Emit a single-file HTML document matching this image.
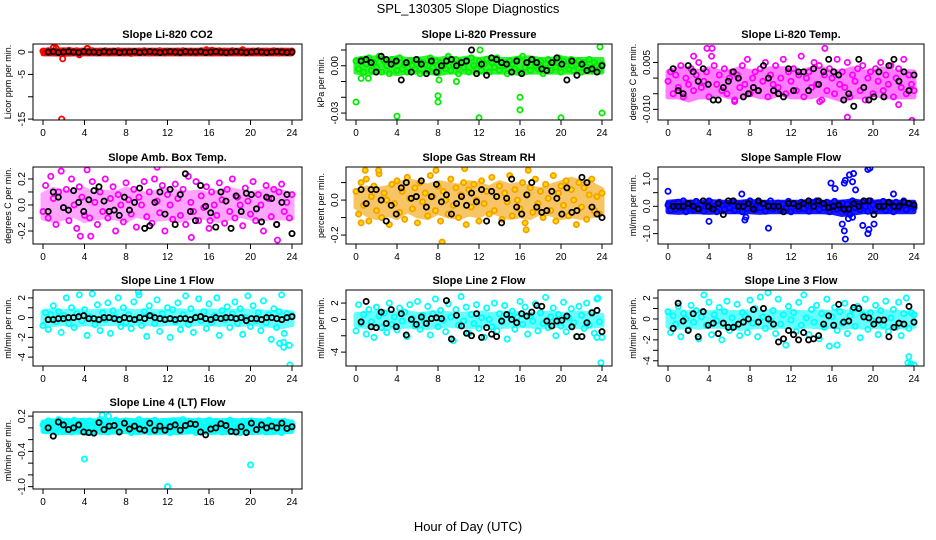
<!DOCTYPE html>
<html><head><meta charset="utf-8"><style>
html,body{margin:0;padding:0;background:#fff;}
svg{display:block;font-family:"Liberation Sans",sans-serif;}
</style></head><body>
<svg id="chart" width="936" height="540" viewBox="0 0 936 540">
<text x="468" y="13" text-anchor="middle" font-size="13">SPL_130305  Slope Diagnostics</text>
<text x="468" y="531" text-anchor="middle" font-size="13">Hour of Day (UTC)</text>
</svg>
<script>
const xTicks = [0,4,8,12,16,20,24];

const co2Color = [0.2,-0.1,0.3,0.1,-0.2,0.9,0.1,-0.3,0.2,-0.1,0.4,-0.2,0.1,0.3,-0.6,0.2,0.0,0.8,-0.1,0.3,0.1,-0.2,0.2,0.0,0.3,-0.2,0.1,0.2,-0.1,0.3,0.0,-0.2,0.1,0.2,-0.3,0.1,0.0,0.2,-0.1,0.3,0.1,-0.2,0.2,0.0,-0.1,0.3,0.1,-0.2,0.2,0.1,-0.1,0.0,0.2,-0.2,0.3,0.1,-0.1,0.2,0.0,-0.2,0.1,0.3,-0.1,0.5,0.2,-0.2,0.1,0.0,0.3,-0.1,0.2,-0.2,0.1,0.3,0.0,-0.1,0.2,0.5,-0.2,0.1,0.0,0.2,-0.1,0.3,0.1,-0.2,0.2,0.0,-0.1,0.3,0.1,-0.2,0.2,0.0,0.1,-0.1,0.2];
const co2Black = [0.0,0.1,-0.1,0.0,0.1,0.0,-0.1,0.1,0.0,0.0,-0.1,0.1,0.0,0.1,-0.1,0.0,0.0,0.1,-0.1,0.0,0.1,0.0,-0.1,0.0,0.1,0.0,-0.1,0.1,0.0,0.0,0.1,-0.1,0.0,0.1,0.0,-0.1,0.0,0.1,0.0,-0.1,0.0,0.1,0.0,-0.1,0.0,0.1,0.0,-0.1,0.0];
const co2Out = [[1,1],[1.9,-1.5],[1.8,-15],[4.3,0.8],[3.5,-0.6],[16.3,0.4]];
const co2BandLo = [-0.4,-0.4,-0.5,-0.4,-0.4,-0.4,-0.4,-0.4,-0.4,-0.4,-0.4,-0.4,-0.4,-0.4,-0.4,-0.4,-0.4,-0.4,-0.4,-0.4,-0.4,-0.4,-0.4,-0.4,-0.4];
const co2BandHi = [0.4,0.4,0.5,0.4,0.4,0.4,0.4,0.4,0.4,0.4,0.4,0.4,0.4,0.4,0.4,0.4,0.5,0.4,0.4,0.4,0.4,0.4,0.4,0.4,0.4];

const presColor = [0.003,-0.002,0.004,-0.004,0.001,0.005,-0.003,0.002,-0.001,0.006,-0.004,0.003,0.000,-0.005,0.004,0.002,-0.003,0.005,-0.002,0.001,-0.004,0.003,0.000,-0.002,0.004,-0.005,0.002,0.001,-0.003,0.005,-0.001,0.003,-0.004,0.002,0.000,-0.002,0.006,-0.003,0.001,0.004,-0.005,0.002,-0.001,0.003,-0.004,0.005,0.000,-0.002,0.003,-0.003,0.001,0.004,-0.004,0.002,-0.001,0.005,-0.003,0.002,0.000,-0.005,0.003,0.001,-0.002,0.004,-0.004,0.006,-0.001,0.002,-0.003,0.004,0.000,-0.002,0.003,-0.005,0.001,0.004,-0.003,0.002,-0.001,0.005,-0.004,0.003,0.000,-0.002,0.004,-0.003,0.001,0.003,-0.004,0.002,-0.001,0.004,-0.003,0.002,0.000,-0.002,0.001];
const presBlack = [0.003,0.004,0.002,-0.004,0.006,0.004,0.001,0.003,-0.009,0.002,-0.004,0.004,0.001,-0.005,0.003,-0.004,0.000,0.003,0.004,0.000,0.002,0.003,0.010,-0.005,0.001,-0.006,0.005,0.004,0.002,0.001,-0.004,0.003,-0.005,0.002,0.004,0.002,-0.002,-0.003,0.002,0.005,0.001,-0.009,0.003,-0.006,0.001,-0.003,-0.002,-0.004,0.000];
const presOut = [[0,-0.023],[4,-0.032],[8,-0.019],[8,-0.023],[12,-0.033],[16,-0.020],[16,-0.028],[20,-0.033],[24,-0.030],[23.8,0.012],[0.5,-0.008],[1.2,-0.008],[8.1,-0.009],[9.8,-0.010],[12.1,0.010]];
const presBandLo = [-0.004,-0.005,-0.004,-0.004,-0.005,-0.004,-0.004,-0.004,-0.005,-0.004,-0.004,-0.004,-0.004,-0.004,-0.004,-0.004,-0.005,-0.004,-0.004,-0.004,-0.004,-0.004,-0.004,-0.004,-0.004];
const presBandHi = [0.004,0.005,0.005,0.004,0.005,0.004,0.004,0.005,0.004,0.005,0.004,0.005,0.004,0.005,0.004,0.004,0.005,0.005,0.004,0.004,0.005,0.004,0.004,0.004,0.004];

const tempColor = [-0.001,0.002,-0.005,0.001,-0.003,0.004,-0.006,0.000,-0.002,0.003,-0.004,0.001,0.005,-0.003,-0.001,0.002,-0.006,0.007,0.004,-0.002,0.001,-0.004,0.003,-0.005,0.000,0.002,-0.007,0.001,-0.003,0.004,-0.002,0.006,-0.005,0.000,0.002,-0.004,0.003,-0.001,0.005,-0.006,0.001,-0.002,0.004,-0.003,0.000,0.006,-0.005,0.002,-0.001,0.003,-0.004,0.001,0.007,-0.006,0.000,0.002,-0.003,0.005,-0.002,0.004,-0.007,0.001,-0.004,0.003,0.000,-0.005,0.006,-0.002,0.002,-0.003,0.005,-0.006,0.001,-0.001,0.003,-0.004,0.004,-0.007,0.000,0.002,-0.005,0.003,-0.001,0.005,-0.004,0.001,-0.002,0.004,-0.006,0.000,0.003,-0.003,0.006,-0.005,0.001,-0.002,-0.004];
const tempBlack = [0.003,-0.004,-0.005,0.004,0.002,-0.001,0.003,-0.002,-0.007,-0.007,-0.003,-0.001,0.002,0.000,-0.006,-0.005,-0.003,-0.004,0.004,0.000,-0.004,-0.005,-0.006,0.003,-0.004,0.002,0.002,-0.004,0.003,-0.002,0.002,0.006,0.002,0.001,-0.007,-0.005,-0.009,0.006,-0.003,-0.007,-0.006,0.002,-0.006,0.004,0.006,-0.001,0.002,-0.004,0.001];
const tempOut = [[3.8,0.0095],[4.3,0.0095],[15.3,0.0095],[17.5,-0.0125],[23.8,-0.0135],[6.5,-0.0075],[22.5,-0.0085],[14.8,-0.0075],[2.5,0.007]];
const tempBandLo = [-0.006,-0.006,-0.007,-0.006,-0.006,-0.005,-0.006,-0.006,-0.005,-0.006,-0.006,-0.005,-0.006,-0.006,-0.006,-0.005,-0.006,-0.007,-0.006,-0.006,-0.005,-0.006,-0.006,-0.006,-0.006];
const tempBandHi = [0.002,0.003,0.003,0.002,0.003,0.002,0.002,0.003,0.002,0.002,0.003,0.003,0.003,0.002,0.003,0.003,0.002,0.002,0.003,0.002,0.002,0.003,0.002,0.002,0.002];

const ambColor = [-0.05,0.15,-0.1,0.22,0.05,-0.15,0.1,0.26,-0.02,0.12,-0.12,0.2,0.0,-0.18,0.14,0.06,-0.08,0.27,-0.1,0.18,0.02,-0.15,0.1,-0.05,0.2,-0.1,0.05,0.14,-0.2,0.08,0.0,-0.13,0.17,0.04,-0.07,0.12,-0.17,0.06,0.0,0.18,-0.09,0.1,-0.14,0.2,0.03,-0.06,0.15,-0.2,0.08,0.0,-0.11,0.16,0.05,-0.08,0.12,-0.15,0.22,0.02,-0.05,0.18,-0.12,0.07,-0.02,0.14,-0.18,0.1,0.0,-0.08,0.17,0.04,-0.14,0.12,-0.05,0.2,-0.1,0.06,0.0,-0.16,0.13,0.03,-0.07,0.18,-0.12,0.08,0.0,-0.2,0.15,0.05,-0.09,0.12,-0.15,0.1,0.16,-0.05,0.02,-0.1,0.08];
const ambBlack = [-0.05,0.1,0.06,-0.02,-0.04,0.11,0.02,-0.05,0.04,0.11,0.14,0.03,-0.05,-0.04,-0.08,0.06,-0.04,0.02,0.13,-0.18,-0.16,0.02,0.1,-0.07,0.12,-0.15,0.08,0.24,-0.05,-0.12,0.15,-0.01,-0.06,-0.17,0.1,0.03,-0.18,0.07,-0.05,0.09,0.08,-0.03,-0.13,0.06,0.05,-0.15,0.02,0.08,-0.22];
const ambOut = [[11,0.29],[16.1,-0.12],[22.6,-0.27],[3.6,-0.24],[4.6,-0.24],[14.3,-0.25]];
const ambBandLo = [-0.1,-0.12,-0.1,-0.08,-0.12,-0.1,-0.09,-0.1,-0.12,-0.08,-0.1,-0.11,-0.1,-0.12,-0.1,-0.09,-0.1,-0.12,-0.1,-0.08,-0.1,-0.11,-0.1,-0.1,-0.1];
const ambBandHi = [0.08,0.12,0.1,0.1,0.12,0.08,0.1,0.09,0.12,0.1,0.08,0.1,0.12,0.1,0.09,0.1,0.08,0.1,0.12,0.1,0.09,0.1,0.12,0.1,0.08];

const rhColor = [0.05,-0.08,0.1,-0.03,0.12,-0.12,0.02,0.08,-0.06,0.15,-0.1,0.04,0.0,-0.14,0.09,-0.02,0.11,-0.07,0.05,-0.11,0.13,0.01,-0.05,0.07,-0.13,0.1,-0.01,0.04,-0.09,0.14,0.02,-0.06,0.08,-0.12,0.05,0.0,-0.08,0.12,-0.03,0.07,-0.1,0.03,0.1,-0.14,0.06,-0.04,0.09,0.0,-0.12,0.11,-0.02,0.05,-0.08,0.13,-0.06,0.02,0.08,-0.11,0.04,-0.01,0.14,-0.09,0.06,0.0,-0.05,0.1,-0.13,0.03,0.07,-0.07,0.12,-0.02,0.05,-0.1,0.09,0.01,-0.06,0.14,-0.12,0.04,0.08,-0.03,0.11,-0.09,0.06,0.0,-0.14,0.1,-0.04,0.07,-0.11,0.03,0.12,-0.06,0.02,-0.08,0.04];
const rhBlack = [0.06,-0.02,0.06,0.06,0.0,-0.12,-0.03,-0.08,0.07,0.1,0.01,0.02,0.11,-0.04,0.02,0.09,-0.01,0.03,-0.08,-0.02,0.02,-0.03,0.04,-0.01,0.06,-0.12,0.05,0.02,-0.13,0.01,0.12,-0.04,-0.08,0.03,0.1,-0.04,-0.07,-0.06,0.05,0.01,-0.08,0.07,-0.07,-0.06,0.13,0.1,-0.04,-0.08,-0.1];
const rhOut = [[0.5,-0.13],[0.9,0.17],[2.2,0.17],[8.4,-0.24],[16.8,0.17],[16.6,-0.17],[7.8,0.17],[10.6,0.18]];
const rhBandLo = [-0.04,-0.08,-0.1,-0.08,-0.1,-0.06,-0.09,-0.1,-0.07,-0.09,-0.1,-0.08,-0.09,-0.06,-0.08,-0.1,-0.09,-0.1,-0.07,-0.08,-0.1,-0.09,-0.1,-0.09,-0.08];
const rhBandHi = [0.04,0.07,0.06,0.07,0.09,0.11,0.1,0.08,0.1,0.09,0.08,0.1,0.09,0.07,0.1,0.08,0.09,0.07,0.06,0.08,0.1,0.12,0.1,0.09,0.06];

const sfColor = [0.05,-0.15,0.1,-0.1,0.15,-0.05,0.2,-0.2,0.0,0.12,-0.12,0.18,-0.08,0.05,-0.18,0.1,0.2,-0.1,0.0,-0.2,0.15,0.05,-0.12,0.1,-0.05,0.18,-0.15,0.0,0.08,-0.2,0.12,-0.08,0.2,0.0,-0.12,0.15,-0.05,0.1,-0.18,0.05,0.2,-0.1,0.0,0.12,-0.15,0.08,-0.05,0.18,-0.2,0.1,0.0,-0.1,0.15,-0.08,0.05,-0.18,0.12,0.0,0.2,-0.12,0.1,-0.05,0.15,-0.2,0.05,0.18,-0.1,0.0,0.12,-0.15,0.08,-0.3,0.2,-0.05,0.1,-0.12,0.15,0.0,-0.18,0.2,0.05,-0.1,0.12,-0.05,0.18,-0.15,0.0,0.1,-0.2,0.15,-0.08,0.05,0.2,-0.12,0.1,0.0,-0.05];
const sfBlack = [0.0,0.0,0.0,0.1,0.0,-0.1,0.2,0.0,-0.1,0.1,-0.3,0.2,0.2,0.0,0.0,0.1,-0.1,0.2,0.1,0.0,0.0,0.0,-0.2,0.1,0.1,0.0,0.1,0.2,0.0,0.2,0.1,-0.05,0.0,0.05,-0.1,-0.1,0.1,0.0,0.2,0.2,-0.3,0.0,0.0,0.15,0.0,0.0,0.15,0.1,0.05];
const sfOut = [[0,0.55],[4,-0.55],[7.5,-0.5],[7.6,-0.4],[7.2,0.45],[9.8,-0.8],[15.9,0.85],[16.3,0.65],[17.2,0.85],[17.3,0.95],[17.7,1.15],[18,0.9],[18.1,1.2],[18.3,0.6],[17,-0.65],[17.2,-0.9],[17.3,-1.2],[17.6,-0.45],[18,-0.4],[19,-0.7],[19.5,-1.0],[19.6,-0.85],[19.5,1.35],[19.7,1.4],[20.1,-0.65],[22,0.45]];
const sfBandLo = [-0.2,-0.22,-0.2,-0.2,-0.22,-0.2,-0.2,-0.2,-0.2,-0.22,-0.2,-0.2,-0.2,-0.2,-0.2,-0.2,-0.22,-0.3,-0.25,-0.2,-0.2,-0.2,-0.2,-0.2,-0.2];
const sfBandHi = [0.15,0.18,0.15,0.15,0.18,0.15,0.15,0.15,0.18,0.15,0.15,0.15,0.15,0.15,0.18,0.15,0.15,0.15,0.2,0.15,0.15,0.18,0.15,0.15,0.15];

const l1Color = [-0.8,0.5,-1.2,0.3,1.2,-0.4,0.6,-1.5,0.2,2.0,-0.6,1.0,-1.0,0.4,2.3,-0.3,0.8,-1.8,0.1,2.4,-0.7,1.3,-1.3,0.5,-0.2,1.5,-1.6,0.7,0.0,2.0,-0.9,1.0,-0.5,0.3,-1.1,1.6,-0.2,2.3,-0.8,0.6,-1.9,1.2,0.2,-0.6,1.8,-1.4,0.4,-0.1,1.0,-2.0,0.8,-0.4,1.5,-1.2,0.3,2.2,-0.7,0.9,-1.5,0.1,1.9,-0.3,0.6,-1.1,1.4,-0.5,0.2,2.0,-1.8,0.7,-0.2,1.1,-1.0,0.4,1.6,-0.6,0.9,-1.7,0.0,2.2,-0.9,1.2,-0.3,0.5,-1.3,1.7,-0.5,0.3,-2.2,0.9,-1.0,0.6,2.3,-1.6,0.4,-2.8,0.2];
const l1Black = [-0.2,-0.2,-0.1,-0.1,0.0,0.0,0.1,0.2,-0.1,-0.1,-0.2,0.0,0.0,-0.1,-0.2,0.0,-0.1,-0.2,0.0,-0.1,0.2,0.0,-0.1,-0.2,-0.1,-0.2,-0.1,-0.1,-0.2,0.0,0.1,-0.1,-0.2,0.0,-0.1,0.0,0.0,-0.1,0.0,-0.3,-0.1,-0.1,-0.2,0.0,0.0,-0.1,-0.2,0.0,0.1];
const l1Out = [[23.8,-4.8],[23.2,-3.0],[22.8,-2.6],[23.2,-2.5],[9.2,2.6]];
const l1BandLo = [-0.6,-0.7,-0.6,-0.8,-0.6,-0.7,-0.6,-0.6,-0.7,-0.6,-0.6,-0.7,-0.6,-0.6,-0.7,-0.6,-0.6,-0.7,-0.6,-0.7,-0.6,-0.7,-0.8,-0.9,-0.7];
const l1BandHi = [0.6,0.7,0.6,0.7,0.6,0.6,0.7,0.6,0.7,0.6,0.7,0.6,0.6,0.7,0.6,0.6,0.7,0.6,0.6,0.7,0.6,0.6,0.5,0.6,0.5];

const l2Color = [-1.4,1.8,-0.5,0.6,-1.8,1.2,-0.3,-2.2,1.5,0.4,-1.0,0.8,-1.6,2.0,-0.6,0.3,-1.3,1.4,-0.2,0.9,-2.1,1.8,0.1,-0.8,2.2,-1.2,0.5,-0.4,1.6,-1.9,0.7,2.5,-0.9,1.1,-0.1,-1.5,1.9,0.3,-2.6,1.2,-0.7,2.8,-0.2,1.5,-1.7,0.6,-0.5,1.8,-1.1,0.2,-2.2,1.4,0.0,-0.9,2.0,-1.4,0.7,-0.3,1.7,-2.4,0.5,1.0,-1.2,0.3,2.2,-0.6,1.5,-1.8,0.4,-0.2,1.9,-1.4,0.8,-0.5,2.7,-1.0,0.3,1.4,-2.0,0.6,-0.8,2.1,-1.5,0.2,1.3,-0.4,-2.1,1.6,0.5,-1.1,2.0,-0.7,0.9,-1.7,2.5,-0.3,-2.2];
const l2Black = [-0.3,2.2,-0.9,-1.0,0.9,-0.5,1.2,-0.9,0.7,-1.9,0.0,-0.6,0.3,-0.5,0.1,0.2,0.1,2.3,-2.4,0.5,-0.8,-1.7,-2.0,0.7,-2.2,-1.0,-1.8,-2.1,-0.2,0.6,0.0,-0.4,0.7,0.4,0.9,1.7,1.6,-0.2,-0.8,-0.2,-0.1,0.4,-0.9,-2.1,-2.1,-0.4,0.8,1.1,-1.5];
const l2Out = [[23.9,-5.3],[23.5,-2.2],[23.6,2.6]];
const l2BandLo = [-0.7,-0.9,-0.8,-1.0,-0.9,-0.8,-0.9,-1.0,-0.8,-0.7,-0.8,-0.9,-0.8,-0.7,-0.9,-0.8,-0.7,-0.8,-0.9,-0.8,-0.7,-0.8,-0.9,-0.8,-0.7];
const l2BandHi = [0.6,0.7,0.8,0.9,0.7,0.8,0.6,0.7,0.8,0.7,0.6,0.7,0.8,0.6,0.7,0.8,0.7,0.6,0.7,0.8,0.6,0.7,0.8,0.6,0.5];

const l3Color = [0.7,-1.3,0.3,-0.5,1.2,-1.7,0.5,0.0,-1.0,1.3,-0.3,0.8,-1.9,0.2,2.3,-0.6,1.6,-1.5,0.4,-0.2,1.1,-2.0,0.7,1.7,-1.1,0.1,-0.7,1.4,-1.6,0.6,0.3,-1.3,1.8,-0.4,1.0,-1.7,2.1,0.2,-0.9,2.5,-0.2,0.8,-1.4,1.9,-0.5,0.4,-2.5,1.2,-0.1,0.6,-1.2,1.6,-0.6,2.3,0.1,-1.5,0.9,-0.3,1.3,-1.9,0.5,-0.8,1.9,-2.6,0.2,1.1,-1.1,0.7,-0.4,1.5,-1.4,0.3,0.9,-0.7,1.2,-1.8,0.4,1.9,-1.0,0.6,-0.2,1.3,-1.5,0.8,-0.6,1.7,-1.2,0.1,0.9,-0.8,1.6,-1.6,0.5,2.0,-0.9,0.6,0.4];
const l3Black = [-0.9,1.5,-0.2,-1.1,0.5,-1.7,0.7,-0.6,-0.4,-1.4,-0.4,-0.8,-0.8,-0.5,-0.3,0.0,0.9,-0.3,1.0,0.0,-0.5,-2.2,-1.9,-1.1,-1.5,-2.0,-1.3,-2.0,-1.9,-1.6,-0.5,0.3,-0.6,1.4,-0.3,-0.2,1.1,1.0,0.2,0.1,-0.5,-0.1,-0.1,-1.7,-0.8,-0.4,-0.5,1.2,-0.3];
const l3Out = [[23.5,-3.6],[23.4,-4.2],[23.7,-4.3],[24,-4.4],[16.5,-2.5]];
const l3BandLo = [-0.7,-0.8,-0.7,-0.8,-0.7,-0.7,-0.8,-0.9,-0.8,-0.7,-0.8,-0.7,-0.8,-0.7,-0.7,-0.8,-0.7,-0.8,-0.7,-0.8,-0.7,-0.8,-0.7,-0.8,-0.7];
const l3BandHi = [0.6,0.7,0.6,0.7,0.6,0.7,0.6,0.6,0.7,0.6,0.7,0.6,0.7,0.6,0.6,0.7,0.6,0.7,0.6,0.7,0.6,0.7,0.6,0.6,0.5];

const l4Color = [0.05,-0.05,0.12,0.0,0.08,-0.08,0.14,0.02,-0.04,0.1,0.06,-0.07,0.13,0.0,-0.03,0.11,0.04,-0.08,0.12,0.02,-0.06,0.09,0.14,-0.02,0.05,-0.07,0.1,0.01,0.13,-0.05,0.07,-0.02,0.12,0.03,-0.08,0.09,0.0,0.14,-0.04,0.06,0.11,-0.07,0.02,0.13,-0.03,0.08,-0.06,0.1,0.04,-0.08,0.12,0.0,0.07,-0.05,0.14,0.02,-0.03,0.1,0.06,-0.08,0.12,0.0,0.09,-0.06,0.13,0.03,-0.04,0.11,0.05,-0.07,0.1,0.0,0.13,-0.05,0.07,0.02,-0.08,0.11,0.04,-0.03,0.12,0.0,0.08,-0.06,0.1,0.05,-0.07,0.13,0.01,-0.04,0.09,0.06,-0.08,0.11,0.02,-0.02,0.05];
const l4Black = [0.0,-0.14,0.1,0.05,-0.03,0.0,0.05,-0.07,-0.08,-0.09,0.09,-0.03,0.03,0.04,-0.07,0.08,-0.02,0.03,-0.02,-0.04,0.08,-0.04,0.03,-0.04,0.02,0.05,-0.04,0.04,0.07,0.06,-0.07,-0.12,-0.02,0.0,0.07,0.04,-0.06,-0.07,0.02,-0.08,0.08,-0.03,0.05,0.0,0.03,0.0,0.08,-0.01,0.02];
const l4Out = [[4,-0.53],[20,-0.63],[12,-1.0],[6.3,0.2],[5.7,0.22]];
const l4BandLo = [-0.06,-0.07,-0.08,-0.07,-0.08,-0.07,-0.08,-0.07,-0.06,-0.08,-0.07,-0.08,-0.07,-0.08,-0.07,-0.06,-0.08,-0.07,-0.08,-0.07,-0.08,-0.07,-0.08,-0.07,-0.06];
const l4BandHi = [0.1,0.12,0.13,0.12,0.13,0.12,0.13,0.12,0.13,0.12,0.13,0.12,0.13,0.14,0.13,0.12,0.13,0.12,0.13,0.12,0.13,0.12,0.12,0.12,0.1];

const svg = document.getElementById('chart');
const NS = 'http://www.w3.org/2000/svg';
function mk(tag, attrs){ const e=document.createElementNS(NS,tag); for(const k in attrs) e.setAttribute(k,attrs[k]); return e; }

const cols = [{l:33,r:302},{l:346,r:612},{l:658,r:924}];
const rows = [{t:44,b:120},{t:167,b:244},{t:290,b:366},{t:412,b:489}];

const panels = [
 {key:'co2',title:'Slope Li-820 CO2',ylab:'Licor ppm per min.',c:0,r:0,yMin:-15.2,yMax:1.8,ticks:[-15,-10,-5,0],labels:['-15','','-5','0'],color:'#ff0000',op:1,cv:co2Color,bv:co2Black,ov:co2Out,lo:co2BandLo,hi:co2BandHi},
 {key:'pressure',title:'Slope Li-820 Pressure',ylab:'kPa per min.',c:1,r:0,yMin:-0.0344,yMax:0.0138,ticks:[-0.03,-0.02,-0.01,0,0.01],labels:['-0.03','','','0.00',''],color:'#00ee00',op:0.8,cv:presColor,bv:presBlack,ov:presOut,lo:presBandLo,hi:presBandHi},
 {key:'temp',title:'Slope Li-820 Temp.',ylab:'degrees C per min.',c:2,r:0,yMin:-0.0134,yMax:0.0109,ticks:[-0.01,-0.005,0,0.005],labels:['-0.010','','','0.005'],color:'#ff00ff',op:0.5,cv:tempColor,bv:tempBlack,ov:tempOut,lo:tempBandLo,hi:tempBandHi},
 {key:'amb',title:'Slope Amb. Box Temp.',ylab:'degrees C per min.',c:0,r:1,yMin:-0.3,yMax:0.292,ticks:[-0.2,-0.1,0,0.1,0.2],labels:['-0.2','','0.0','','0.2'],color:'#ff00ff',op:0.35,cv:ambColor,bv:ambBlack,ov:ambOut,lo:ambBandLo,hi:ambBandHi},
 {key:'rh',title:'Slope Gas Stream RH',ylab:'percent per min.',c:1,r:1,yMin:-0.251,yMax:0.189,ticks:[-0.2,-0.1,0,0.1],labels:['-0.2','','0.0',''],color:'#f5a000',fill:'#ffdd00',op:0.6,cv:rhColor,bv:rhBlack,ov:rhOut,lo:rhBandLo,hi:rhBandHi},
 {key:'sampleflow',title:'Slope Sample Flow',ylab:'ml/min per min.',c:2,r:1,yMin:-1.38,yMax:1.44,ticks:[-1,-0.5,0,0.5,1],labels:['-1.0','','0.0','','1.0'],color:'#0000ff',op:0.9,cv:sfColor,bv:sfBlack,ov:sfOut,lo:sfBandLo,hi:sfBandHi},
 {key:'line1',title:'Slope Line 1 Flow',ylab:'ml/min per min.',c:0,r:2,yMin:-4.9,yMax:2.8,ticks:[-4,-3,-2,-1,0,1,2],labels:['-4','','-2','','0','','2'],color:'#00ffff',op:0.6,cv:l1Color,bv:l1Black,ov:l1Out,lo:l1BandLo,hi:l1BandHi},
 {key:'line2',title:'Slope Line 2 Flow',ylab:'ml/min per min.',c:1,r:2,yMin:-5.7,yMax:3.6,ticks:[-4,-2,0,2],labels:['-4','','0','2'],color:'#00ffff',op:0.6,cv:l2Color,bv:l2Black,ov:l2Out,lo:l2BandLo,hi:l2BandHi},
 {key:'line3',title:'Slope Line 3 Flow',ylab:'ml/min per min.',c:2,r:2,yMin:-4.5,yMax:2.77,ticks:[-4,-3,-2,-1,0,1,2],labels:['-4','','-2','','0','','2'],color:'#00ffff',op:0.6,cv:l3Color,bv:l3Black,ov:l3Out,lo:l3BandLo,hi:l3BandHi},
 {key:'line4',title:'Slope Line 4 (LT) Flow',ylab:'ml/min per min.',c:0,r:3,yMin:-1.04,yMax:0.27,ticks:[-1,-0.8,-0.6,-0.4,-0.2,0,0.2],labels:['-1.0','','','-0.4','','','0.2'],color:'#00ffff',op:0.9,cv:l4Color,bv:l4Black,ov:l4Out,lo:l4BandLo,hi:l4BandHi}
];

function drawPanel(p){
  const L=cols[p.c].l, R=cols[p.c].r, T=rows[p.r].t, B=rows[p.r].b;
  const x0=L+10, x1=R-10;
  const xs = h => x0 + (h/24)*(x1-x0);
  const ys = v => B - (v-p.yMin)/(p.yMax-p.yMin)*(B-T);
  const g = mk('g',{});
  
  
  svg.appendChild(g);
  const title = mk('text',{x:(L+R)/2,y:T-6,'text-anchor':'middle','font-size':'11','font-weight':'bold'});
  title.textContent = p.title;
  
  
  g.appendChild(title);
  const yl = mk('text',{x:0,y:0,'text-anchor':'middle','font-size':'9',transform:`translate(${L-22},${(T+B)/2}) rotate(-90)`});
  yl.textContent = p.ylab;
  
  
  g.appendChild(yl);
  const clip = mk('clipPath',{id:'clip-'+p.key});
  clip.appendChild(mk('rect',{x:L,y:T,width:R-L,height:B-T}));
  g.appendChild(clip);
  const pts = mk('g',{'clip-path':`url(#clip-${p.key})`});
  
  
  g.appendChild(pts);
  const n = p.hi.length;
  let d = '';
  p.hi.forEach((v,i)=>{ d += (i?'L':'M') + xs(i*24/(n-1)) + ',' + ys(v); });
  for(let i=n-1;i>=0;i--){ d += 'L' + xs(i*24/(n-1)) + ',' + ys(p.lo[i]); }
  d += 'Z';
  const band = mk('path',{d:d,fill:p.color,stroke:p.color,'stroke-width':5,'stroke-linejoin':'round',opacity:p.op});
  
  
  pts.appendChild(band);
  const fill = p.fill || 'none';
  const drawPt = (h,v,col,name) => {
    const c = mk('circle',{cx:xs(h),cy:ys(v),r:2.6,fill:'none',stroke:col,'stroke-width':1.8});
    if(fill!=='none' && col!=='#000') { c.setAttribute('fill',fill); }
    
    
    pts.appendChild(c);
  };
  p.cv.forEach((v,i)=>drawPt(i*24/(p.cv.length-1),v,p.color,'point-'+p.key));
  p.ov.forEach(o=>drawPt(o[0],o[1],p.color,'outlier-'+p.key));
  p.bv.forEach((v,i)=>drawPt(0.5+i*23.5/(p.bv.length-1),v,'#000','hourly-point-'+p.key));
  const box = mk('rect',{x:L,y:T,width:R-L,height:B-T,fill:'none',stroke:'#000','stroke-width':1});
  
  
  g.appendChild(box);
  xTicks.forEach(t=>{
    g.appendChild(mk('line',{x1:xs(t),x2:xs(t),y1:B,y2:B+5,stroke:'#000'}));
    const tx = mk('text',{x:xs(t),y:B+16,'text-anchor':'middle','font-size':'10'});
    tx.textContent = t;
    
    
    g.appendChild(tx);
  });
  p.ticks.forEach((t,i)=>{
    g.appendChild(mk('line',{x1:L-5,x2:L,y1:ys(t),y2:ys(t),stroke:'#000'}));
    if(p.labels[i]){
      const ty = mk('text',{x:0,y:0,'text-anchor':'middle','font-size':'10',transform:`translate(${L-8},${ys(t)}) rotate(-90)`});
      ty.textContent = p.labels[i];
      
      
      g.appendChild(ty);
    }
  });
}
panels.forEach(drawPanel);
</script>
</body></html>
